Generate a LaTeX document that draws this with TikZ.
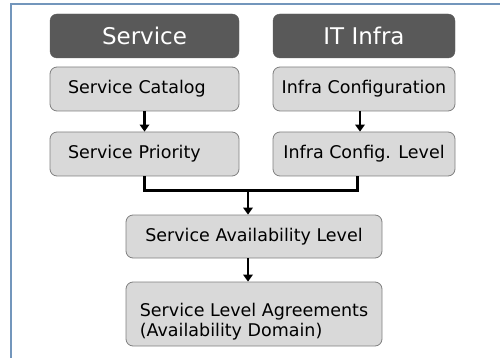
\documentclass[tikz,border=0pt]{standalone}
\usepackage{fontspec}
\setmainfont{DejaVu Sans}
\usetikzlibrary{arrows.meta,calc}

\definecolor{headgray}{HTML}{595959}
\definecolor{boxgray}{HTML}{D9D9D9}
\definecolor{edgegray}{HTML}{7F7F7F}
\definecolor{frameblue}{HTML}{7396BC}

\tikzset{
    head/.style={
        rectangle, rounded corners=7pt,
        fill=headgray, draw=headgray,
        text=white, font=\fontsize{23}{27}\selectfont,
        minimum height=44pt
    },
    block/.style={
        rectangle, rounded corners=7pt,
        fill=boxgray, draw=edgegray, line width=0.8pt,
        font=\fontsize{17.5}{20}\selectfont,
        minimum height=44pt, inner sep=2pt
    },
    leftblock/.style={
        block, inner xsep=18pt,
        text width=153pt, align=left
    },
    flow/.style={
        line width=2.6pt,
        -{Triangle[length=7pt,width=9.5pt]}
    }
}

\begin{document}
\begin{tikzpicture}[x=1pt,y=-1pt]

    \useasboundingbox (0,0) rectangle (500,358);

    % frame
    \draw[frameblue, line width=1.4pt]
        (11,358) --
        (11,4) --
        (500,4);

    % headers
    \node[head, minimum width=189pt] (service) at (144.5,36) {Service};
    \node[head, minimum width=182pt] (infra) at (364,36) {IT Infra};

    % service column
    \node[leftblock] (catalog) at (144.5,89) {Service Catalog};
    \node[leftblock] (priority) at (144.5,154) {Service Priority};

    % infra column
    \node[block, minimum width=182pt] (config) at (364,89) {Infra Configuration};
    \node[block, minimum width=182pt] (cfglevel) at (364,154) {Infra Config. Level};

    % lower blocks
    \node[block, minimum width=256pt, minimum height=43pt] (avail) at (254,236.5)
        {Service Availability Level};
    \node[block, minimum width=256pt, minimum height=64pt, align=left] (sla) at (254,314)
        {\rule{0pt}{28pt}Service Level Agreements\\(Availability Domain)};

    % arrows
    \draw[flow]
        (catalog) --
        (priority);
    \draw[flow]
        ([xshift=-4pt]config.south) --
        ([xshift=-4pt]cfglevel.north);

    % merge
    \coordinate (join) at (248,190);
    \draw[line width=3pt]
        (priority.south) |-
        (join) -|
        ([xshift=-7pt]cfglevel.south);
    \draw[flow]
        ([yshift=-1.5pt]join) --
        (avail.north -| join);

    \draw[flow]
        (avail.south -| join) --
        (sla.north -| join);

\end{tikzpicture}
\end{document}
